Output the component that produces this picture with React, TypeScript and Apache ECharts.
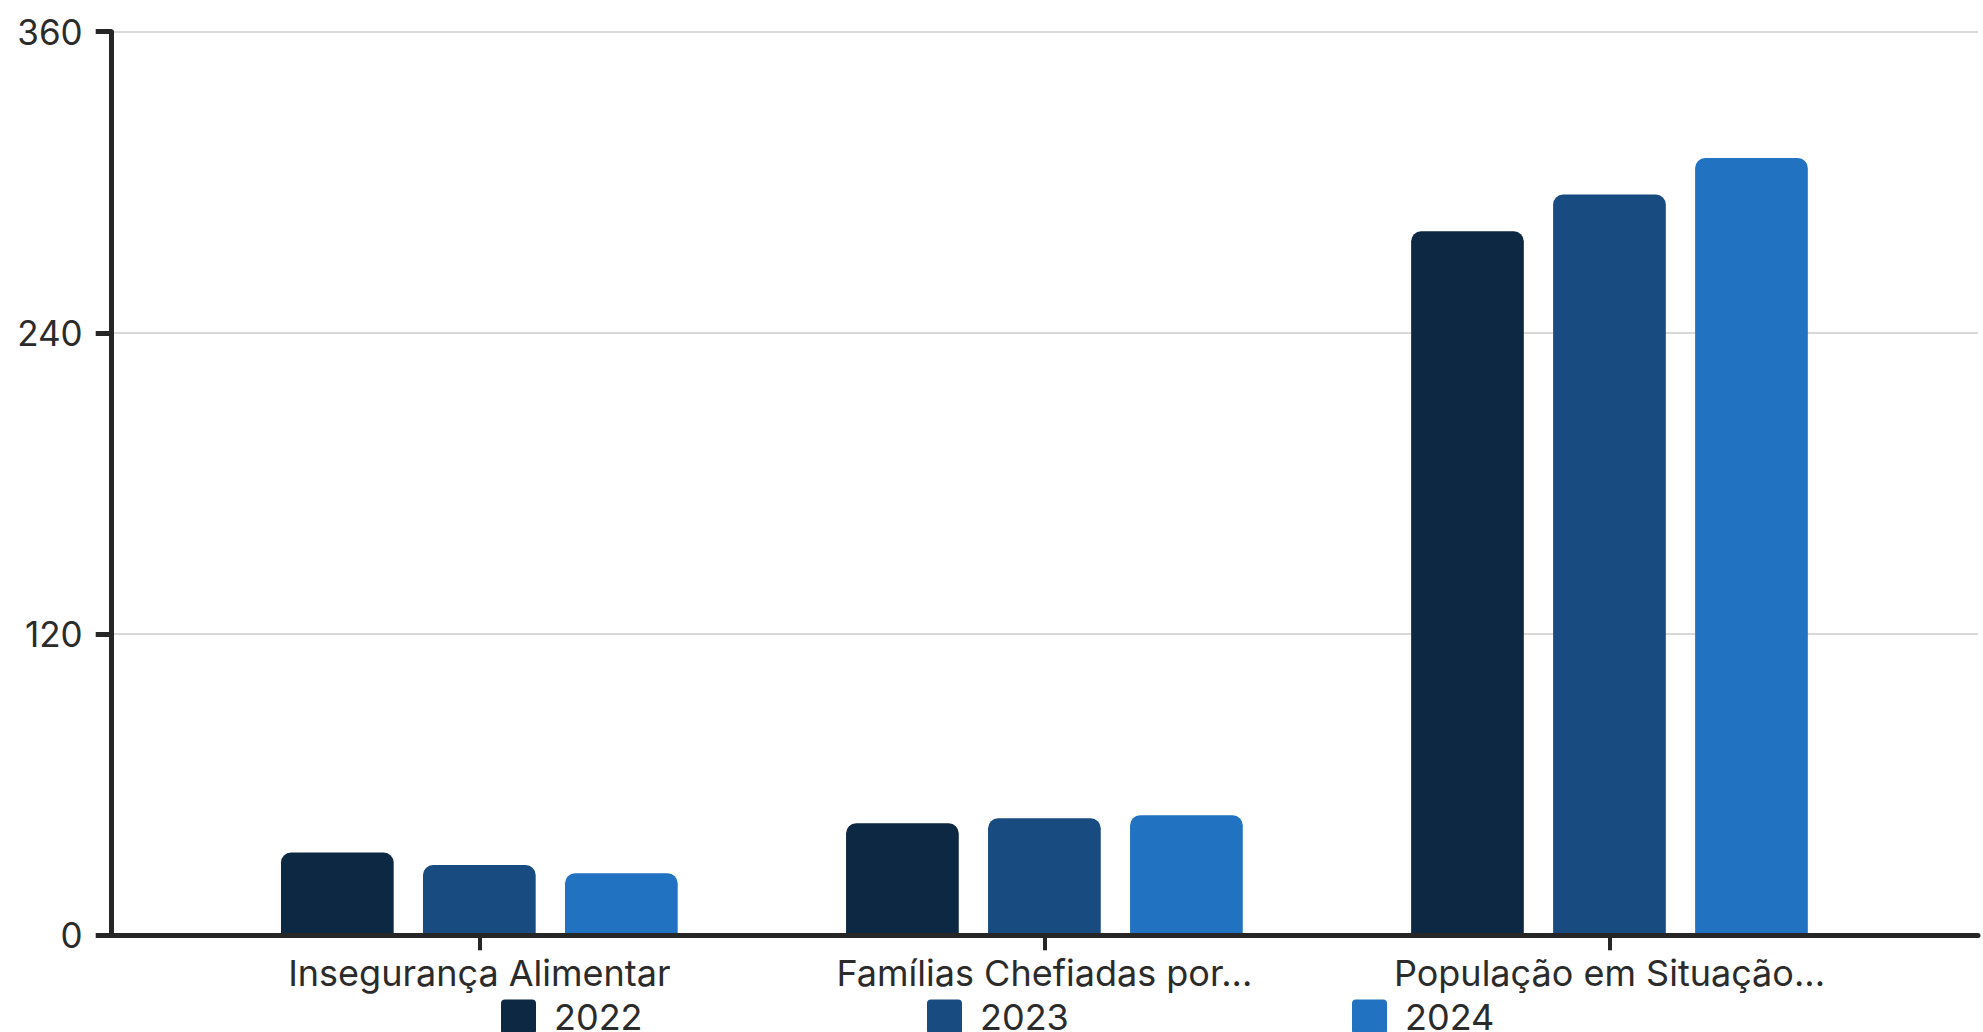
import React, { useEffect, useRef } from "react";
import * as echarts from "echarts";

const categories = ["Insegurança Alimentar", "Famílias Chefiadas por...", "População em Situação..."];
const seriesNames = ["2022", "2023", "2024"];
const values2022 = [33, 44.6, 280.5];
const values2023 = [28, 46.6, 295.1];
const values2024 = [24.7, 47.8, 309.7];
const seriesColors = ["#0d2843", "#184b80", "#2172c1"];
const yTicks = { min: 0, max: 360, interval: 120 };

const FONT = "Inter, 'Noto Sans', sans-serif";
const TEXT = "#2b2b2b";
const AXIS = "#262626";
const ICON = "path://M4,0 H31 A4,4 0 0 1 35,4 V31 A4,4 0 0 1 31,35 H4 A4,4 0 0 1 0,31 V4 A4,4 0 0 1 4,0 Z";

export default function App() {
  const ref = useRef<HTMLDivElement>(null);
  useEffect(() => {
    if (!ref.current) return;
    const chart = echarts.init(ref.current, undefined, { renderer: "svg" });
    const allValues = [values2022, values2023, values2024];
    const legendLefts = [501, 927, 1352];
    chart.setOption({
      animation: false,
      backgroundColor: "#ffffff",
      grid: [
        { left: 111.7, right: 5, top: 31.7, bottom: 96.7, containLabel: false },
        { left: 196.8, right: 1983 - 1892, top: 31.7, bottom: 96.7, containLabel: false },
      ],
      legend: seriesNames.map((n, i) => ({
        data: [{ name: n, icon: ICON }],
        left: legendLefts[i],
        top: 999,
        padding: 0,
        itemWidth: 35,
        itemHeight: 35,
        selectedMode: false,
        textStyle: { fontSize: 36, color: TEXT, fontFamily: FONT, padding: [0, 0, 0, 13] },
      })),
      xAxis: [
        {
          gridIndex: 0,
          type: "category",
          data: [""],
          z: 10,
          axisLine: { show: true, lineStyle: { color: AXIS, width: 5 } },
          axisTick: { show: false },
          axisLabel: { show: false },
          splitLine: { show: false },
        },
        {
          gridIndex: 1,
          type: "category",
          data: categories,
          z: 10,
          axisLine: { show: false },
          axisTick: { show: true, alignWithLabel: true, length: 15, lineStyle: { color: AXIS, width: 4 } },
          axisLabel: { interval: 0, fontSize: 36, color: TEXT, fontFamily: FONT, margin: 20 },
          splitLine: { show: false },
        },
      ],
      yAxis: [
        {
          gridIndex: 0,
          type: "value",
          min: yTicks.min,
          max: yTicks.max,
          interval: yTicks.interval,
          axisLine: { show: true, lineStyle: { color: AXIS, width: 5 } },
          axisTick: { show: true, length: 16, lineStyle: { color: AXIS, width: 5 } },
          axisLabel: { fontSize: 35, color: TEXT, fontFamily: FONT, margin: 29 },
          splitLine: { show: true, lineStyle: { color: "#d9d9d9", width: 2 } },
        },
        {
          gridIndex: 1,
          type: "value",
          min: yTicks.min,
          max: yTicks.max,
          interval: yTicks.interval,
          show: false,
          splitLine: { show: false },
        },
      ],
      series: seriesNames.map((n, i) => ({
        name: n,
        type: "bar",
        xAxisIndex: 1,
        yAxisIndex: 1,
        data: allValues[i],
        barWidth: 112.7,
        barGap: "26%",
        itemStyle: { color: seriesColors[i], borderRadius: [10, 10, 0, 0] },
      })),
    });
    return () => chart.dispose();
  }, []);
  return (
    <div
      ref={ref}
      style={{ position: "fixed", left: 0, top: 0, width: 1983, height: 1032, background: "#fff" }}
    />
  );
}
